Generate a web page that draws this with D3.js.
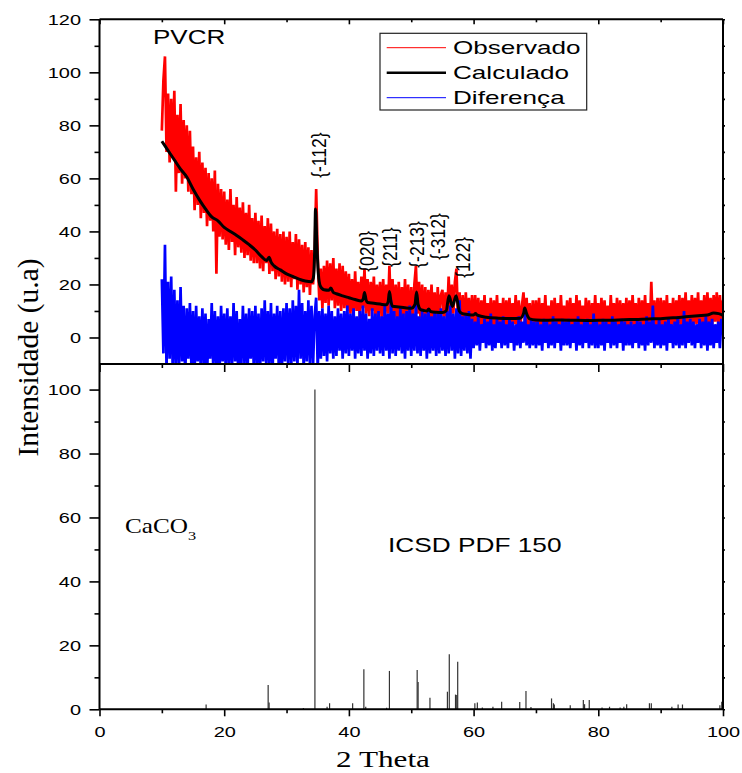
<!DOCTYPE html>
<html lang="en">
<head>
<meta charset="utf-8">
<title>PVCR - DRX</title>
<script src="https://d3js.org/d3.v7.min.js"></script>
<style>
  body { margin: 0; background: #fff; }
  svg { display: block; }
</style>
</head>
<body>
<svg id="chart" width="742" height="773"></svg>
<script>
// measured pattern, 2 theta from 10 to 100 in steps of 0.25
const obsStart = 10, obsStep = 0.25;
const observado = [
  78,97,106,70,92,66,90,68,93,55,84,62,88,58,82,60,80,55,78,54,
  72,48,68,50,70,45,66,47,64,42,62,44,60,40,63,24,58,38,56,37,
  55,35,52,33,56,36,50,31,53,34,49,32,51,30,47,31,50,29,45,28,
  47,28,44,26,46,25,42,28,45,24,43,25,40,22,41,23,39,21,40,20,
  38,21,40,19,36,22,39,18,37,20,35,17,36,19,34,16,33,20,30,56,
  31,14,26,11,27,13,29,12,28,14,30,11,26,12,28,10,27,11,25,10,
  24,9,22,8,25,10,21,7,23,11,26,9,22,8,21,10,23,7,20,9,
  21,7,22,8,20,9,27,8,22,6,20,7,21,5,19,7,22,6,20,5,
  19,5,20,27,9,21,6,20,5,19,6,18,4,20,5,17,4,19,6,16,
  18,5,17,8,23,7,20,9,21,26,6,17,4,16,3,17,5,15,3,16,
  4,16,5,15,3,14,4,16,3,13,5,15,2,14,4,16,3,13,4,15,
  3,14,4,15,3,13,5,16,2,14,4,12,17,5,15,3,13,2,14,3,
  14,3,15,2,13,4,16,3,12,2,14,4,15,2,13,3,16,4,12,2,
  14,3,15,4,13,2,16,3,14,4,12,2,15,3,14,2,13,4,16,3,
  13,2,15,4,14,3,12,2,16,4,13,3,15,2,14,4,13,3,15,2,
  14,3,16,4,13,2,15,3,14,4,16,3,13,2,21,4,14,3,15,4,
  15,3,14,4,16,2,13,4,15,3,14,5,16,3,15,4,17,3,14,5,
  16,4,15,5,17,3,14,5,16,4,17,5,15,4,16,6,17,4,16,5,
  14
];
const diferenca = [
  22,-6,35,-12,21,-8,23,-14,18,-10,14,-13,19,-9,12,-15,11,-8,13,-12,
  10,-14,12,-9,8,-13,11,-10,9,-15,7,-8,13,-12,10,-11,8,-14,12,-9,
  9,-13,11,-10,8,-12,13,-9,10,-14,7,-11,12,-10,9,-13,11,-8,10,-12,
  12,-11,9,-13,11,-9,14,-12,10,-10,13,-14,9,-8,12,-11,10,-13,11,-9,
  13,-10,11,-12,14,-9,12,-11,18,-8,13,-12,10,-9,14,-10,12,-11,8,15,
  -12,10,-8,11,-7,9,-9,12,-6,10,-8,8,-7,11,-5,9,-8,10,-6,12,
  -7,9,-5,11,-8,8,-6,10,-7,12,-5,9,-8,7,-6,11,-7,9,-5,10,
  -6,8,-7,12,-5,9,-8,14,-6,10,-7,8,-5,11,-6,9,-8,10,-5,12,
  -7,9,-5,13,-6,8,-7,10,-5,9,-8,11,-6,8,-5,10,-7,9,-6,11,
  -5,8,-7,10,-6,12,-5,9,-8,11,-6,14,-7,8,-5,9,-6,10,-8,7,
  -4,6,-3,8,-5,5,-2,7,-4,6,-3,9,-5,5,-4,7,-2,6,-4,8,
  -3,5,-4,7,-2,6,-5,5,-3,8,-4,6,-2,9,-3,5,-4,7,-3,6,
  -4,6,-3,5,-5,7,-2,6,-4,5,-3,8,-4,6,-2,5,-5,7,-3,6,
  -3,7,-4,5,-2,6,-5,8,-3,5,-4,6,-2,7,-4,5,-3,9,-4,6,
  -4,5,-3,7,-5,6,-2,5,-4,8,-3,6,-4,5,-2,7,-5,6,-3,5,
  -3,6,-4,5,-2,7,-4,6,-3,5,-5,8,-3,6,-2,12,-4,5,-3,7,
  -4,5,-3,6,-5,7,-2,5,-4,6,-3,8,-4,5,-3,10,-4,6,-2,7,
  -3,6,-4,5,-2,7,-4,6,-3,8,-5,6,-3,7,-4,5,-2,6,-4,7,
  3
];

// fitted (calculated) profile
const calcTheta = [10,11,12,13,14,15,16,17,18,19,20,21,22,23,24,25,26,26.8,27.2,27.5,28,29,30,31,32,33,34,34.3,34.5,34.65,34.85,35.1,35.4,36,36.8,37.1,37.5,38,39,40,41,42,42.3,42.5,42.75,43,44,45,46,46.3,46.5,46.75,47,48,49,50,50.6,50.85,51.1,51.5,52,52.5,52.8,53.1,54,55,55.6,56.05,56.6,57.2,57.7,58.2,59,60,60.3,60.6,62,64,66,67.5,68,68.2,68.5,69,70,72,74,76,78,80,82,84,86,88,90,92,94,96,97.5,98.5,99.3,100];
const calcInt = [74,70.5,67,63.5,60.5,56,52,48.5,45.5,44,41.5,40,38.5,36.8,35,33,30.5,29,30.3,28.5,27,25.5,24,23,22,21.3,21,22.5,32,48.5,36,24,19.5,18,17.8,18.7,17,16.5,15.7,15,14.3,13.8,14.5,17,14.2,13.2,12.9,12.6,12.3,13.5,17.3,13.5,11.8,11.5,11.2,11,12.5,17.2,12.5,10.5,10.2,10,10.7,9.8,9.5,9.4,10,15.7,11.7,15.7,10,9,8.7,8.5,9,8.4,7.6,7.3,7.2,7.3,9,11.1,9,7,6.6,6.5,6.6,6.5,6.4,6.5,6.5,6.7,6.8,7,7.1,7.4,7.8,8.2,8.5,9.2,9,8.3];

// reference lines, ICSD PDF 150 (CaCO3)
const refTheta = [17.1,27.05,27.2,32.7,34.55,36.5,36.9,40.6,42.4,42.7,46.05,46.5,50.95,51.1,53.0,55.8,56.1,57.1,57.3,57.45,60.2,60.6,61.4,63.1,64.5,67.4,68.4,69.2,72.5,72.8,72.95,75.5,77.6,77.8,78.55,80.6,81.8,83.5,84.1,84.55,88.2,88.5,91.8,92.8,93.5,99.5,99.8];
const refInt = [1.5,7.6,2.1,0.4,100,0.8,1.9,1.9,12.5,0.8,0.5,12.0,12.3,8.5,3.6,5.5,17.2,4.6,4.5,14.9,1.9,2.1,0.6,0.8,2.4,2.3,5.7,0.7,3.4,1.9,1.5,1.3,2.9,1.6,2.9,0.6,0.8,0.6,0.8,1.6,1.9,1.9,0.8,1.5,1.5,1.3,2.4];

// Miller index labels: position (2 theta) and intensity where the label starts
const peakLabels = ["{-112}","{020}","{211}","{-213}","{-312}","{122}"];
const peakTheta = [35.1,42.9,46.6,50.8,54.3,58.3];
const peakBase = [60.2,24.8,26.6,26.3,29.3,22.5];

const xMajor = [0,20,40,60,80,100];
const xMinor = [10,30,50,70,90];
const topMajor = [0,20,40,60,80,100,120];
const topMinor = [10,30,50,70,90,110];
const botMajor = [0,20,40,60,80,100];
const botMinor = [10,30,50,70,90];
const legendNames = ["Observado","Calculado","Diferença"];
const legendColors = ["#ff0000","#000000","#0000ff"];
const legendWidths = [1,2.5,1];

const svg = d3.select("#chart");
const pLeft = 99.5, pRight = 723, pTop = 19.3, pMid = 364, pBottom = 709.3;
const sans = "'Liberation Sans', Arial, sans-serif";
const serif = "'Liberation Serif', 'Times New Roman', serif";

const x = d3.scaleLinear().domain([0, 100]).range([pLeft, pRight]);
const yTop = d3.scaleLinear().domain([-10, 120]).range([pMid, pTop]);
const yBot = d3.scaleLinear().domain([0, 108]).range([pBottom, pMid]);

svg.append("rect").attr("width", 742).attr("height", 773).attr("fill", "#fff");

svg.append("defs").append("clipPath").attr("id", "clip-top")
    .append("rect")
    .attr("x", pLeft).attr("y", pTop)
    .attr("width", pRight - pLeft).attr("height", pMid - pTop);

const obsData = observado.map((v, i) => [obsStart + i * obsStep, v]);
const difData = diferenca.map((v, i) => [obsStart + i * obsStep, v]);
const calcData = calcTheta.map((t, i) => [t, calcInt[i]]);

const rawLine = d3.line().x(d => x(d[0])).y(d => yTop(d[1]));
const smoothLine = d3.line().x(d => x(d[0])).y(d => yTop(d[1])).curve(d3.curveMonotoneX);

// the real scan is much denser than these samples, a wider stroke fills the band
const plot = svg.append("g").attr("clip-path", "url(#clip-top)");
plot.append("path").datum(obsData)
    .attr("d", rawLine).attr("fill", "none")
    .attr("stroke", "#ff0000").attr("stroke-width", 2.7)
    .attr("stroke-linejoin", "bevel");
plot.append("path").datum(difData)
    .attr("d", rawLine).attr("fill", "none")
    .attr("stroke", "#0000ff").attr("stroke-width", 2.7)
    .attr("stroke-linejoin", "bevel");
plot.append("path").datum(calcData)
    .attr("d", smoothLine).attr("fill", "none")
    .attr("stroke", "#000").attr("stroke-width", 3)
    .attr("stroke-linejoin", "round");

// stick pattern
svg.append("g").selectAll("line")
    .data(refTheta)
    .join("line")
    .attr("x1", d => x(d)).attr("x2", d => x(d))
    .attr("y1", yBot(0))
    .attr("y2", (d, i) => yBot(refInt[i]))
    .attr("stroke", "#333").attr("stroke-width", 1.2);

// axes
function ticks(gen, pos, values, size, pad, labels) {
    const g = svg.append("g").attr("transform", pos)
        .call(gen.tickValues(values).tickSize(size).tickSizeOuter(0).tickPadding(pad)
            .tickFormat(labels ? d3.format("d") : ""));
    g.select(".domain").remove();
    g.selectAll(".tick line").attr("stroke", "#000").attr("stroke-width", 1.6);
    g.selectAll(".tick text")
        .attr("font-family", sans).attr("font-size", 15).attr("fill", "#000");
    return g;
}

const lt = ticks(d3.axisLeft(yTop), `translate(${pLeft},0)`, topMajor, 10, 8.5, true);
ticks(d3.axisLeft(yTop), `translate(${pLeft},0)`, topMinor, 5, 8.5, false);
ticks(d3.axisBottom(x), `translate(0,${pMid})`, xMajor, 8, 0, false);
ticks(d3.axisBottom(x), `translate(0,${pMid})`, xMinor, 4, 0, false);
ticks(d3.axisBottom(x), `translate(0,${pTop})`, xMajor, 5, 0, false);
ticks(d3.axisBottom(x), `translate(0,${pTop})`, xMinor, 3, 0, false);
ticks(d3.axisRight(yTop), `translate(${pRight},0)`, topMajor.concat(topMinor), 2, 0, false);

const lb = ticks(d3.axisLeft(yBot), `translate(${pLeft},0)`, botMajor, 10, 8.5, true);
ticks(d3.axisLeft(yBot), `translate(${pLeft},0)`, botMinor, 5, 8.5, false);
const bb = ticks(d3.axisBottom(x), `translate(0,${pBottom})`, xMajor, 7, 10, true);
ticks(d3.axisBottom(x), `translate(0,${pBottom})`, xMinor, 4, 10, false);
ticks(d3.axisRight(yBot), `translate(${pRight},0)`, botMajor.concat(botMinor), 2, 0, false);

// the original figure is stretched sideways, so are its labels
[lt, lb].forEach(g => g.selectAll(".tick text")
    .attr("x", 0)
    .attr("transform", "translate(-18.5,0) scale(1.33,1)"));
bb.selectAll(".tick text").attr("transform", "scale(1.33,1)");

// frame
const frame = svg.append("g").attr("stroke", "#000").attr("stroke-width", 2);
frame.append("line").attr("x1", pLeft).attr("x2", pLeft).attr("y1", pTop).attr("y2", pBottom);
frame.append("line").attr("x1", pRight).attr("x2", pRight).attr("y1", pTop).attr("y2", pBottom);
frame.append("line").attr("x1", pLeft).attr("x2", pRight).attr("y1", pTop).attr("y2", pTop);
frame.append("line").attr("x1", pLeft).attr("x2", pRight).attr("y1", pMid).attr("y2", pMid);
frame.append("line").attr("x1", pLeft).attr("x2", pRight).attr("y1", pBottom).attr("y2", pBottom);

// Miller indices
svg.append("g").selectAll("text")
    .data(peakLabels)
    .join("text")
    .attr("transform", (d, i) => `translate(${x(peakTheta[i])},${yTop(peakBase[i])}) scale(1.2,1) rotate(-90)`)
    .attr("dy", "0.35em")
    .attr("font-family", sans).attr("font-size", 17.5)
    .text(d => d);

// panel texts
svg.append("text")
    .attr("transform", "translate(153,44) scale(1.3,1)")
    .attr("font-family", sans).attr("font-size", 20)
    .text("PVCR");

svg.append("text")
    .attr("transform", "translate(388,551.7) scale(1.25,1)")
    .attr("font-family", sans).attr("font-size", 21)
    .text("ICSD PDF 150");

const caco = svg.append("text")
    .attr("transform", "translate(125,532.7) scale(1.26,1)")
    .attr("font-family", serif).attr("font-size", 20);
caco.append("tspan").text("CaCO");
caco.append("tspan").attr("font-size", 13).attr("dy", 7).text("3");

// axis titles
svg.append("text")
    .attr("transform", "translate(383,767) scale(1.3,1)")
    .attr("text-anchor", "middle")
    .attr("font-family", serif).attr("font-size", 24)
    .text("2 Theta");

svg.append("text")
    .attr("transform", "translate(37.5,357.5) rotate(-90)")
    .attr("text-anchor", "middle")
    .attr("font-family", serif).attr("font-size", 29.5)
    .text("Intensidade (u.a)");

// legend
const legend = svg.append("g");
legend.append("rect")
    .attr("x", 380).attr("y", 33.3).attr("width", 206.7).attr("height", 76.7)
    .attr("fill", "#fff").attr("stroke", "#222").attr("stroke-width", 1.2);

const item = legend.selectAll("g.item")
    .data(legendNames)
    .join("g")
    .attr("class", "item")
    .attr("transform", (d, i) => `translate(0,${47.7 + i * 25})`);
item.append("line")
    .attr("x1", 386.7).attr("x2", 446)
    .attr("stroke", (d, i) => legendColors[i])
    .attr("stroke-width", (d, i) => legendWidths[i]);
item.append("text")
    .attr("transform", "translate(453,6.6) scale(1.45,1)")
    .attr("font-family", sans).attr("font-size", 18)
    .text(d => d);
</script>
</body>
</html>
